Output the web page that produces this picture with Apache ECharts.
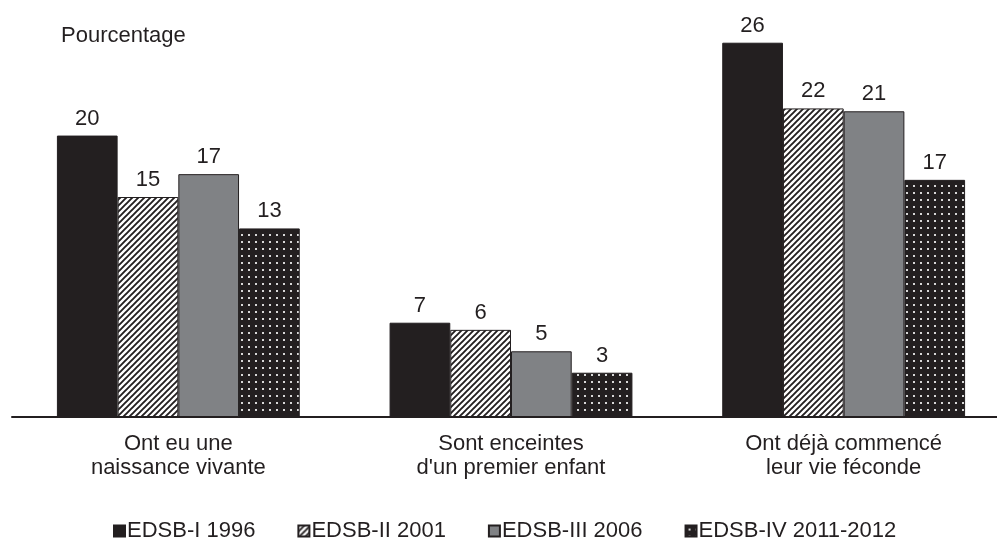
<!DOCTYPE html>
<html>
<head>
<meta charset="utf-8">
<script src="https://cdn.jsdelivr.net/npm/echarts@6/dist/echarts.min.js"></script>
<style>
  html, body { margin: 0; padding: 0; background: #fff; }
  #chart { width: 997px; height: 542px; }
</style>
</head>
<body>
<div id="chart"></div>
<script>
// categories (x axis)
const categories = [
  "Ont eu une\nnaissance vivante",
  "Sont enceintes\nd'un premier enfant",
  "Ont déjà commencé\nleur vie féconde"
];
// series names
const seriesNames = ["EDSB-I 1996", "EDSB-II 2001", "EDSB-III 2006", "EDSB-IV 2011-2012"];
// values (labels show rounded values)
const edsb1 = [19.7, 6.6, 26.2];
const edsb2 = [15.4, 6.1, 21.6];
const edsb3 = [17.0, 4.6, 21.4];
const edsb4 = [13.2, 3.1, 16.6];

const dark = "#231f20";
const font = "Liberation Sans, Arial, sans-serif";

// hachures diagonales
function hatchPattern() {
  const c = document.createElement("canvas");
  c.width = 6; c.height = 6;
  const ctx = c.getContext("2d");
  ctx.fillStyle = "#ffffff";
  ctx.fillRect(0, 0, 6, 6);
  ctx.strokeStyle = dark;
  ctx.lineWidth = 1.9;
  ctx.beginPath();
  ctx.moveTo(-1, 7); ctx.lineTo(7, -1);
  ctx.moveTo(-4, 4); ctx.lineTo(4, -4);
  ctx.moveTo(2, 10); ctx.lineTo(10, 2);
  ctx.stroke();
  return c;
}
// points blancs sur fond noir
function dotPattern() {
  const c = document.createElement("canvas");
  c.width = 7; c.height = 7;
  const ctx = c.getContext("2d");
  ctx.fillStyle = dark;
  ctx.fillRect(0, 0, 7, 7);
  ctx.fillStyle = "#d8d8d8";
  ctx.fillRect(3, 3, 2, 2);
  return c;
}

const colors = [
  dark,
  { image: hatchPattern(), repeat: "repeat" },
  "#808285",
  { image: dotPattern(), repeat: "repeat" }
];
const dataArr = [edsb1, edsb2, edsb3, edsb4];

const chart = echarts.init(document.getElementById("chart"));
const seriesArr = dataArr.map((d, i) => {
  return {
    name: seriesNames[i],
    type: "bar",
    data: d,
    barGap: "0%",
    barCategoryGap: "27%",
    itemStyle: { color: colors[i], borderColor: dark, borderWidth: 1 },
    label: {
      show: true,
      position: "top",
      distance: 6,
      color: dark,
      fontSize: 22,
      fontFamily: font,
      formatter: (p) => Math.round(p.value)
    }
  };
});

chart.setOption({
  animation: false,
  backgroundColor: "#fff",
  textStyle: { fontFamily: font, color: dark },
  graphic: [{
    type: "text",
    left: 61,
    top: 25,
    style: { text: "Pourcentage", fontSize: 22, fill: dark, fontFamily: font }
  }],
  grid: {
    left: 12, width: 998, top: 17, bottom: 125,
    containLabel: false, outerBoundsMode: "none"
  },
  legend: {
    data: seriesNames,
    bottom: 0,
    left: 113,
    padding: 0,
    icon: "rect",
    itemWidth: 11,
    itemHeight: 11,
    itemGap: 42,
    textStyle: { fontSize: 22, color: dark, fontFamily: font, padding: [0, 0, 0, -3] }
  },
  xAxis: {
    type: "category",
    data: categories,
    axisLine: { lineStyle: { color: dark, width: 2 } },
    axisTick: { show: false },
    axisLabel: { color: dark, fontSize: 22, lineHeight: 24, margin: 15, interval: 0 }
  },
  yAxis: {
    type: "value",
    min: 0,
    max: 28,
    show: false,
    splitLine: { show: false }
  },
  series: seriesArr
});
</script>
</body>
</html>
